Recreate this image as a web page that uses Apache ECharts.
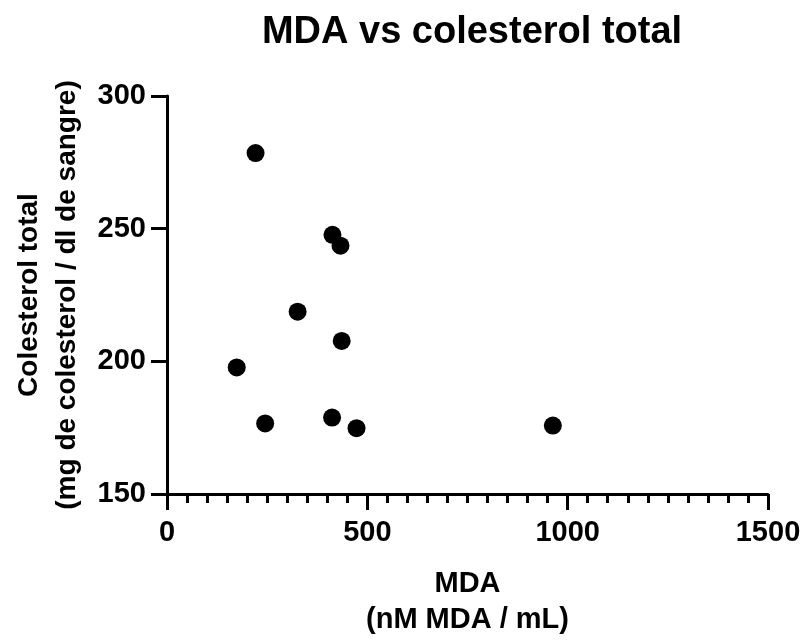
<!DOCTYPE html>
<html>
<head>
<meta charset="utf-8">
<script src="https://cdn.jsdelivr.net/npm/echarts@6/dist/echarts.min.js"></script>
<style>
html,body{margin:0;padding:0;background:#fff;}
#chart{width:804px;height:643px;}
</style>
</head>
<body>
<div id="chart"></div>
<script>
var titleText = 'MDA vs colesterol total';
var xAxisName = 'MDA\n(nM MDA / mL)';
var yAxisName = 'Colesterol total\n(mg de colesterol / dl de sangre)';
var mdaValues = [221, 413, 433, 326, 436, 174, 245, 412, 473, 963];
var colesterolValues = [278.5, 247.7, 243.6, 218.7, 207.7, 197.7, 176.6, 178.8, 174.8, 175.8];
var xTicks = [0, 500, 1000, 1500];
var yTicks = [150, 200, 250, 300];

var points = mdaValues.map(function (v, i) { return [v, colesterolValues[i]]; });
var FONT = '"Liberation Sans", Arial, sans-serif';

var chart = echarts.init(document.getElementById('chart'), null, {renderer: 'canvas'});
chart.setOption({
  animation: false,
  backgroundColor: '#ffffff',
  title: {
    text: titleText,
    left: 467,
    top: 9,
    textAlign: 'center',
    textStyle: {fontFamily: FONT, fontSize: 38, fontWeight: 'bold', color: '#000'}
  },
  grid: {left: 167, right: 36, top: 96, bottom: 146, containLabel: false},
  xAxis: {
    type: 'value',
    min: xTicks[0],
    max: xTicks[xTicks.length - 1],
    interval: 500,
    name: xAxisName,
    nameLocation: 'middle',
    nameGap: 72,
    nameTextStyle: {fontFamily: FONT, fontSize: 29, fontWeight: 'bold', color: '#000', lineHeight: 36, verticalAlign: 'top'},
    axisLine: {show: true, onZero: false, lineStyle: {color: '#000', width: 3}},
    axisTick: {show: true, length: 16, lineStyle: {color: '#000', width: 3}},
    minorTick: {show: true, splitNumber: 10, length: 9, lineStyle: {color: '#000', width: 3}},
    axisLabel: {fontFamily: FONT, fontSize: 29, fontWeight: 'bold', color: '#000', margin: 24,
      formatter: function (v) { return String(v); }},
    splitLine: {show: false},
    minorSplitLine: {show: false}
  },
  yAxis: {
    type: 'value',
    min: yTicks[0],
    max: yTicks[yTicks.length - 1],
    interval: 50,
    name: yAxisName,
    nameLocation: 'middle',
    nameGap: 80,
    nameRotate: 90,
    nameTextStyle: {fontFamily: FONT, fontSize: 28, fontWeight: 'bold', color: '#000', lineHeight: 38},
    axisLine: {show: true, onZero: false, lineStyle: {color: '#000', width: 3}},
    axisTick: {show: true, length: 16, lineStyle: {color: '#000', width: 3}},
    axisLabel: {fontFamily: FONT, fontSize: 29, fontWeight: 'bold', color: '#000', margin: 21,
      formatter: function (v) { return String(v); }},
    splitLine: {show: false}
  },
  series: [{
    type: 'scatter',
    data: points,
    symbol: 'circle',
    symbolSize: 18,
    itemStyle: {color: '#000', opacity: 1}
  }]
});
</script>
</body>
</html>
